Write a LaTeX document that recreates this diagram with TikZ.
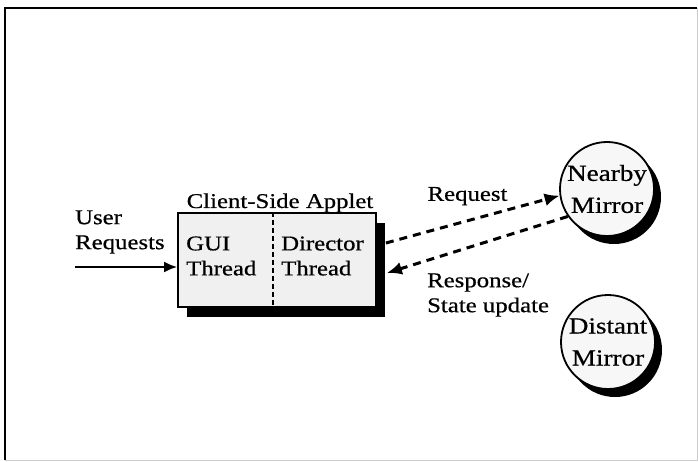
\documentclass[tikz,border=0pt]{standalone}
\usepackage{fontspec}
\setmainfont{Liberation Serif}[FakeStretch=1.18, FakeBold=0.6]
\usepackage{tikz}
\usetikzlibrary{arrows.meta,positioning,shadows}

\begin{document}
\begin{tikzpicture}[
  x=1pt, y=-1pt,
  applet/.style={
    rectangle,
    draw=black,
    line width=1.8pt,
    fill=gray!12,
    minimum width=198pt,
    minimum height=94pt,
    drop shadow={shadow xshift=9pt, shadow yshift=-10pt, fill=black, opacity=1}
  },
  mirror/.style={
    circle,
    draw=black,
    line width=1.8pt,
    fill=gray!6,
    minimum size=94pt,
    inner sep=0pt,
    align=center,
    font=\fontsize{23}{32}\selectfont,
    drop shadow={shadow xshift=7pt, shadow yshift=-8pt, fill=black, opacity=1}
  },
  txt/.style={font=\fontsize{21}{25}\selectfont, inner sep=0pt, align=left},
  divider/.style={line width=1.2pt, dash pattern=on 5pt off 3pt},
  msg/.style={-{Latex[length=15pt,width=13pt]}, line width=3pt, dash pattern=on 8pt off 6pt},
  input/.style={-{Latex[length=13pt,width=11pt]}, line width=2.2pt}
]
\useasboundingbox (0,0) rectangle (698,462);

% frame
\draw[gray!40, line width=1pt] (697,8) -- (697,460) -- (5,460);
\draw[line width=1.5pt] (5,460) -- (5,8) -- (697,8);

% applet with its two threads
\node[applet] (applet) at (277,260) {};
\draw[divider] ([xshift=-4pt]applet.north) -- ([xshift=-4pt]applet.south);
\node[txt, anchor=base] (title) at (280,208) {Client-Side Applet};
\node[txt, anchor=west] (gui) at (186,256) {GUI\\Thread};
\node[txt, anchor=west] (director) at (281,256) {Director\\Thread};

% user input
\node[txt, anchor=west] (user) at (75,232) {User\\Requests};
\coordinate (from) at (75,267);
\draw[input] (from) -- (from -| applet.west);

% mirrors
\node[mirror] (nearby) at (607,189) {Nearby\\Mirror};
\node[mirror] (distant) at (608,342) {Distant\\Mirror};

\draw[msg] ([xshift=9pt,yshift=17pt]applet.east) -- node[txt, pos=0.47, above=14pt] (req) {Request} (nearby.188);
\draw[msg] (nearby.215) -- ([xshift=10pt,yshift=-13pt]applet.east);
\node[txt, anchor=west] (resp) at (427,295) {Response/\\State update};

\end{tikzpicture}
\end{document}
